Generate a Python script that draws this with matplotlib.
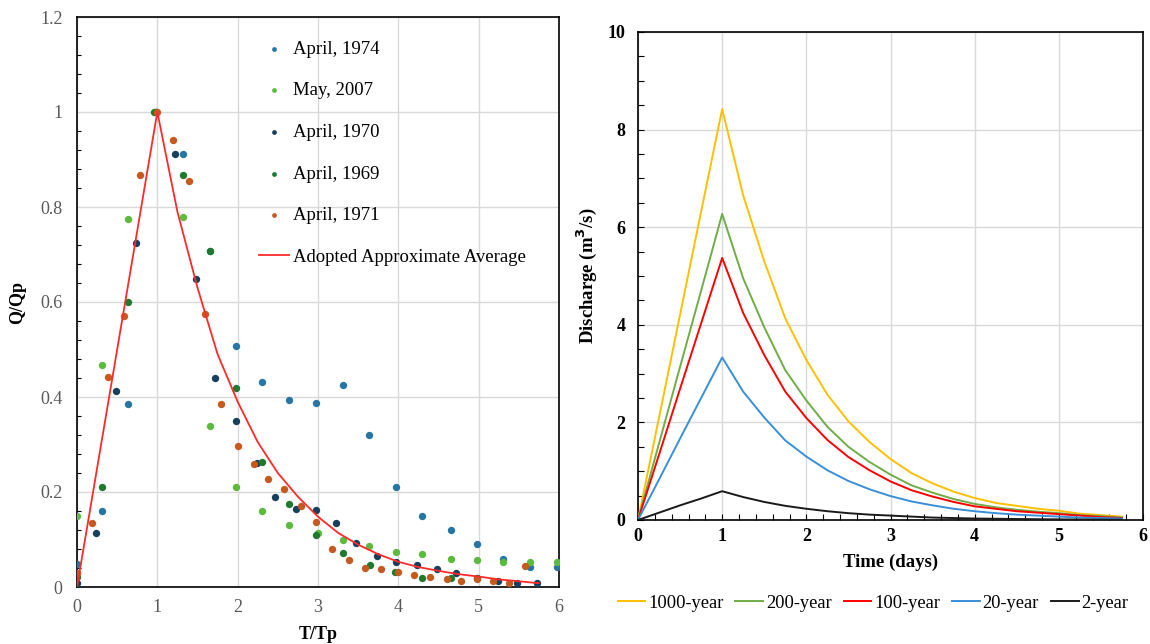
import matplotlib
matplotlib.use("Agg")
import matplotlib.pyplot as plt
from matplotlib.ticker import MultipleLocator

plt.rcParams['font.family'] = ['Liberation Serif', 'DejaVu Serif']

# ---------------- Left chart data ----------------
x_1974 = [0, 0.31, 0.64, 0.98, 1.32, 1.65, 1.98, 2.30, 2.64, 2.98, 3.31, 3.64, 3.97, 4.30, 4.65, 4.98, 5.30, 5.64, 5.98]
y_1974 = [0.048, 0.159, 0.385, 1.0, 0.911, 0.708, 0.508, 0.431, 0.394, 0.387, 0.425, 0.32, 0.211, 0.149, 0.119, 0.09, 0.06, 0.043, 0.043]

x_2007 = [0, 0.31, 0.64, 0.98, 1.32, 1.65, 1.98, 2.30, 2.64, 3.0, 3.31, 3.64, 3.97, 4.30, 4.65, 4.98, 5.30, 5.64, 5.98]
y_2007 = [0.149, 0.468, 0.775, 1.0, 0.778, 0.338, 0.211, 0.159, 0.131, 0.114, 0.098, 0.087, 0.074, 0.069, 0.06, 0.057, 0.053, 0.053, 0.053]

x_1970 = [0, 0.24, 0.48, 0.73, 0.98, 1.22, 1.48, 1.72, 1.98, 2.24, 2.47, 2.73, 2.98, 3.22, 3.47, 3.73, 3.97, 4.23, 4.48, 4.72, 4.98, 5.24, 5.48, 5.73]
y_1970 = [0.009, 0.113, 0.413, 0.725, 1.0, 0.911, 0.648, 0.44, 0.35, 0.262, 0.19, 0.165, 0.162, 0.134, 0.093, 0.065, 0.053, 0.046, 0.038, 0.029, 0.02, 0.013, 0.009, 0.009]

x_1969 = [0, 0.31, 0.64, 0.96, 1.32, 1.65, 1.98, 2.30, 2.64, 2.98, 3.31, 3.65, 3.96, 4.30, 4.65, 4.98]
y_1969 = [0.022, 0.211, 0.601, 1.0, 0.867, 0.708, 0.418, 0.263, 0.174, 0.11, 0.072, 0.046, 0.032, 0.02, 0.02, 0.018]

x_1971 = [0, 0.19, 0.39, 0.59, 0.78, 1.0, 1.19, 1.39, 1.59, 1.79, 2.0, 2.2, 2.38, 2.58, 2.79, 2.98, 3.18, 3.39, 3.59, 3.79, 3.99, 4.19, 4.40, 4.60, 4.78, 4.98, 5.18, 5.38, 5.58]
y_1971 = [0.029, 0.134, 0.443, 0.571, 0.868, 1.0, 0.942, 0.855, 0.574, 0.385, 0.297, 0.258, 0.227, 0.206, 0.171, 0.137, 0.081, 0.057, 0.041, 0.038, 0.031, 0.025, 0.022, 0.016, 0.013, 0.016, 0.013, 0.009, 0.044]

x_avg = [0, 1, 1.25, 1.5, 1.75, 2, 2.25, 2.5, 2.75, 3, 3.25, 3.5, 3.75, 4, 4.25, 4.5, 4.75, 5, 5.25, 5.5, 5.75]
y_avg = [0, 1, 0.79, 0.63, 0.49, 0.39, 0.305, 0.24, 0.19, 0.148, 0.114, 0.089, 0.069, 0.053, 0.042, 0.034, 0.027, 0.022, 0.016, 0.012, 0.008]

scatter_series = [
    ("April, 1974", x_1974, y_1974, "#2576A5"),
    ("May, 2007", x_2007, y_2007, "#5CBB3C"),
    ("April, 1970", x_1970, y_1970, "#173F5E"),
    ("April, 1969", x_1969, y_1969, "#1F7A30"),
    ("April, 1971", x_1971, y_1971, "#C65A1E"),
]

# ---------------- Right chart data ----------------
t_days = [0, 0.25, 0.5, 0.75, 1, 1.25, 1.5, 1.75, 2, 2.25, 2.5, 2.75, 3, 3.25, 3.5, 3.75, 4, 4.25, 4.5, 4.75, 5, 5.25, 5.5, 5.75]
q_1000 = [0, 2.1, 4.21, 6.32, 8.42, 6.65, 5.30, 4.13, 3.28, 2.57, 2.02, 1.60, 1.25, 0.96, 0.75, 0.58, 0.45, 0.35, 0.29, 0.23, 0.19, 0.13, 0.10, 0.07]
q_200 = [0, 1.57, 3.14, 4.70, 6.27, 4.95, 3.95, 3.07, 2.45, 1.91, 1.50, 1.19, 0.93, 0.71, 0.56, 0.43, 0.33, 0.26, 0.21, 0.17, 0.14, 0.10, 0.08, 0.05]
q_100 = [0, 1.34, 2.69, 4.03, 5.37, 4.24, 3.38, 2.63, 2.09, 1.64, 1.29, 1.02, 0.79, 0.61, 0.48, 0.37, 0.28, 0.23, 0.18, 0.15, 0.12, 0.09, 0.06, 0.04]
q_20 = [0, 0.83, 1.67, 2.50, 3.33, 2.63, 2.10, 1.63, 1.30, 1.02, 0.80, 0.63, 0.49, 0.38, 0.30, 0.23, 0.18, 0.14, 0.11, 0.09, 0.07, 0.05, 0.04, 0.03]
q_2 = [0, 0.15, 0.30, 0.44, 0.59, 0.47, 0.37, 0.29, 0.23, 0.18, 0.14, 0.11, 0.09, 0.07, 0.05, 0.04, 0.03, 0.025, 0.02, 0.016, 0.013, 0.01, 0.007, 0.005]

line_series = [
    ("1000-year", q_1000, "#FFC000"),
    ("200-year", q_200, "#70AD47"),
    ("100-year", q_100, "#FF0000"),
    ("20-year", q_20, "#3A8FD9"),
    ("2-year", q_2, "#1A1A1A"),
]

fig = plt.figure(figsize=(11.5, 6.44), dpi=100)
grid_c = "#D9D9D9"
tick_gray = "#595959"

# ---------------- Left axes ----------------
ax1 = fig.add_axes([77/1150, 1-587/644, (559-77)/1150, (587-17)/644])
for label, xs, ys, c in scatter_series:
    ax1.scatter(xs, ys, s=28, color=c, label=label, zorder=3, linewidths=0)
ax1.plot(x_avg, y_avg, color="#FF2A2A", lw=1.3, label="Adopted Approximate Average", zorder=4)
ax1.set_xlim(0, 6)
ax1.set_ylim(0, 1.2)
ax1.xaxis.set_major_locator(MultipleLocator(1))
ax1.yaxis.set_minor_locator(MultipleLocator(0.04))
ax1.set_yticks([0, 0.2, 0.4, 0.6, 0.8, 1.0, 1.2])
ax1.set_yticklabels(["0", "0.2", "0.4", "0.6", "0.8", "1", "1.2"])
ax1.grid(True, which="major", color=grid_c, lw=1.0, zorder=0)
ax1.set_axisbelow(True)
ax1.tick_params(axis="both", which="major", length=0, labelsize=13, labelcolor=tick_gray)
ax1.tick_params(axis="y", which="major", pad=10.5)
ax1.tick_params(axis="x", which="major", pad=9)
ax1.tick_params(axis="y", which="minor", direction="in", length=3, width=0.8)
ax1.tick_params(axis="x", which="minor", length=0)
for sp in ax1.spines.values():
    sp.set_color("#000000")
    sp.set_linewidth(1.2)
ax1.set_xlabel("T/Tp", fontsize=13, fontweight="bold", labelpad=7)
ax1.set_ylabel("Q/Qp", fontsize=13, fontweight="bold", labelpad=10)
leg1 = ax1.legend(loc="upper left", bbox_to_anchor=(0.362, 0.972), frameon=False,
                  fontsize=13.5, labelspacing=1.31, handlelength=1.6, handletextpad=0.2,
                  markerscale=0.65, borderaxespad=0)

# ---------------- Right axes ----------------
ax2 = fig.add_axes([638/1150, 1-520/644, (1143-638)/1150, (520-32)/644])
for label, qs, c in line_series:
    ax2.plot(t_days, qs, color=c, lw=1.4, label=label, zorder=3)
ax2.set_xlim(0, 6)
ax2.set_ylim(0, 10)
ax2.xaxis.set_major_locator(MultipleLocator(1))
ax2.xaxis.set_minor_locator(MultipleLocator(0.2))
ax2.yaxis.set_major_locator(MultipleLocator(2))
ax2.yaxis.set_minor_locator(MultipleLocator(0.5))
ax2.grid(True, which="major", color=grid_c, lw=1.0, zorder=0)
ax2.set_axisbelow(True)
ax2.tick_params(axis="both", which="major", direction="in", length=4, width=0.8, labelsize=13)
ax2.tick_params(axis="y", which="major", pad=9)
ax2.tick_params(axis="x", which="major", pad=6)
ax2.tick_params(axis="both", which="minor", direction="in", length=4, width=0.8)
for lab in ax2.get_xticklabels() + ax2.get_yticklabels():
    lab.set_fontweight("bold")
for sp in ax2.spines.values():
    sp.set_color("#000000")
    sp.set_linewidth(1.2)
ax2.set_xlabel("Time (days)", fontsize=13.5, fontweight="bold", labelpad=6)
ax2.set_ylabel("Discharge (m$^\\mathbf{3}$/s)", fontsize=13.5, fontweight="bold", labelpad=6)
fig.legend(handles=ax2.get_lines(), labels=[s[0] for s in line_series],
           loc="center", bbox_to_anchor=(873/1150, 1-603/644), ncol=5, frameon=False,
           fontsize=13.3, handlelength=1.5, handletextpad=0.15, columnspacing=0.65)

fig.savefig("out.png", dpi=100)
